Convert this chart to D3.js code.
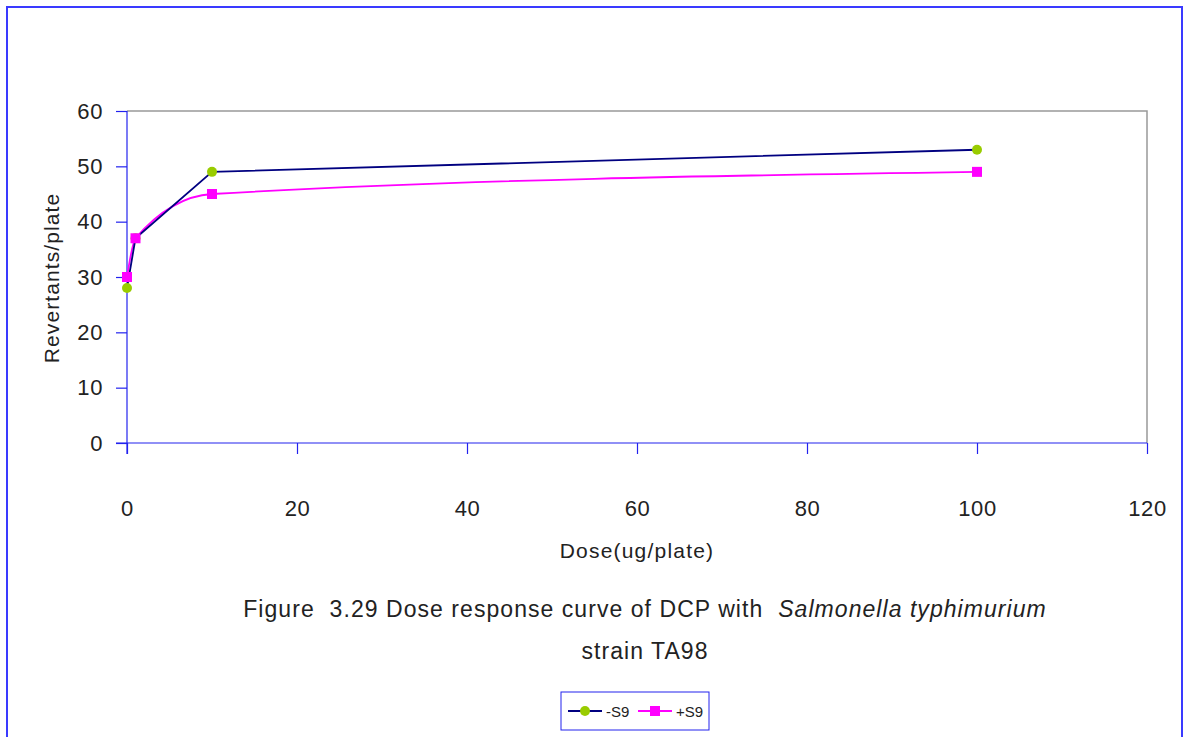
<!DOCTYPE html>
<html>
<head>
<meta charset="utf-8">
<script src="https://cdn.jsdelivr.net/npm/d3@7"></script>
<style>
  html, body { margin: 0; padding: 0; background: #fff; }
  svg { display: block; }
  text { font-family: "Liberation Sans", Arial, sans-serif; fill: #222; white-space: pre; }
</style>
</head>
<body>
<script>
// Dose levels (ug/plate) and revertant counts per plate
const doses = [0, 1, 10, 100];
const minusS9 = [28, 37, 49, 53];
const plusS9 = [30, 37, 45, 49];
const xTicks = [0, 20, 40, 60, 80, 100, 120];
const yTicks = [0, 10, 20, 30, 40, 50, 60];
const seriesNames = ["-S9", "+S9"];

const W = 1184, H = 737;
const svg = d3.select("body").append("svg").attr("width", W).attr("height", H);

// outer frame (open at the bottom)
svg.append("path")
  .attr("d", `M7,${H} L7,7 L1182,7 L1182,${H}`)
  .attr("fill", "none").attr("stroke", "#3a3aff").attr("stroke-width", 2);

const plot = { left: 127, right: 1147, top: 111, bottom: 443 };
const x = d3.scaleLinear().domain([0, 120]).range([plot.left, plot.right]);
const y = d3.scaleLinear().domain([0, 60]).range([plot.bottom, plot.top]);

// plot area frame: top and right in gray
svg.append("path")
  .attr("d", `M${plot.left},${plot.top} L${plot.right},${plot.top} L${plot.right},${plot.bottom}`)
  .attr("fill", "none").attr("stroke", "#999").attr("stroke-width", 1.5);

const tickFont = sel => sel.style("font-size", "22px").style("letter-spacing", "0.6px")
  .attr("fill", "#222").attr("font-family", "Liberation Sans, Arial, sans-serif");

// y axis
const yAxis = svg.append("g").attr("transform", `translate(${plot.left},0)`)
  .call(d3.axisLeft(y).tickValues(yTicks).tickSize(11).tickPadding(13));
yAxis.select(".domain").attr("stroke", "#2222ee").attr("stroke-width", 1.2)
  .attr("d", `M0,${plot.top}V${plot.bottom + 11}`);
yAxis.selectAll(".tick line").attr("stroke", "#2222ee").attr("stroke-width", 1.2);
yAxis.selectAll(".tick text").call(tickFont);

// x axis
const xAxis = svg.append("g").attr("transform", `translate(0,${plot.bottom})`)
  .call(d3.axisBottom(x).tickValues(xTicks).tickSize(11).tickPadding(46));
xAxis.select(".domain").attr("stroke", "#2222ee").attr("stroke-width", 1.2)
  .attr("d", `M${plot.left - 11},0H${plot.right}`);
xAxis.selectAll(".tick line").attr("stroke", "#2222ee").attr("stroke-width", 1.2);
xAxis.selectAll(".tick text").call(tickFont);

// axis titles
svg.append("text").attr("x", 637).attr("y", 558).attr("text-anchor", "middle")
  .style("font-size", "21px").style("letter-spacing", "1.2px").text("Dose(ug/plate)");
svg.append("text").attr("transform", "translate(59,278) rotate(-90)")
  .attr("text-anchor", "middle").style("font-size", "21px").style("letter-spacing", "1.1px")
  .text("Revertants/plate");

// series lines
const ptsMinus = doses.map((d, i) => [d, minusS9[i]]);
const ptsPlus = doses.map((d, i) => [d, plusS9[i]]);

const straight = d3.line().x(d => x(d[0])).y(d => y(d[1]));
const smooth = d3.line().x(d => x(d[0])).y(d => y(d[1])).curve(d3.curveMonotoneX);

svg.append("path").attr("d", smooth(ptsPlus))
  .attr("fill", "none").attr("stroke", "#ff00ff").attr("stroke-width", 1.8);
svg.append("path").attr("d", straight(ptsMinus))
  .attr("fill", "none").attr("stroke", "#000080").attr("stroke-width", 1.8);

// markers
svg.selectAll(".mk-minus").data(ptsMinus).enter().append("circle")
  .attr("cx", d => x(d[0])).attr("cy", d => y(d[1])).attr("r", 5)
  .attr("fill", "#99cc00");
svg.selectAll(".mk-plus").data(ptsPlus).enter().append("rect")
  .attr("x", d => x(d[0]) - 5).attr("y", d => y(d[1]) - 5)
  .attr("width", 10).attr("height", 10).attr("fill", "#ff00ff");

// caption
const cap = svg.append("text").attr("x", 645).attr("y", 617).attr("text-anchor", "middle")
  .style("font-size", "23px").style("letter-spacing", "1.05px");
cap.append("tspan").text("Figure  3.29 Dose response curve of DCP with  ");
cap.append("tspan").style("font-style", "italic").text("Salmonella typhimurium");
svg.append("text").attr("x", 645).attr("y", 659).attr("text-anchor", "middle")
  .style("font-size", "23px").style("letter-spacing", "1.05px").text("strain TA98");

// legend
const lg = svg.append("g").attr("transform", "translate(561,692)");
lg.append("rect").attr("x", 0).attr("y", 0).attr("width", 148).attr("height", 38)
  .attr("fill", "#fff").attr("stroke", "#2222ee").attr("stroke-width", 1);
// -S9 entry
lg.append("line").attr("x1", 7).attr("x2", 41).attr("y1", 19).attr("y2", 19)
  .attr("stroke", "#000080").attr("stroke-width", 1.8);
lg.append("circle").attr("cx", 24).attr("cy", 19).attr("r", 5).attr("fill", "#99cc00");
lg.append("text").attr("x", 45).attr("y", 25).style("font-size", "15px").text(seriesNames[0]);
// +S9 entry
lg.append("line").attr("x1", 77).attr("x2", 111).attr("y1", 19).attr("y2", 19)
  .attr("stroke", "#ff00ff").attr("stroke-width", 1.8);
lg.append("rect").attr("x", 89).attr("y", 14).attr("width", 10).attr("height", 10).attr("fill", "#ff00ff");
lg.append("text").attr("x", 115).attr("y", 25).style("font-size", "15px").text(seriesNames[1]);
</script>
</body>
</html>
